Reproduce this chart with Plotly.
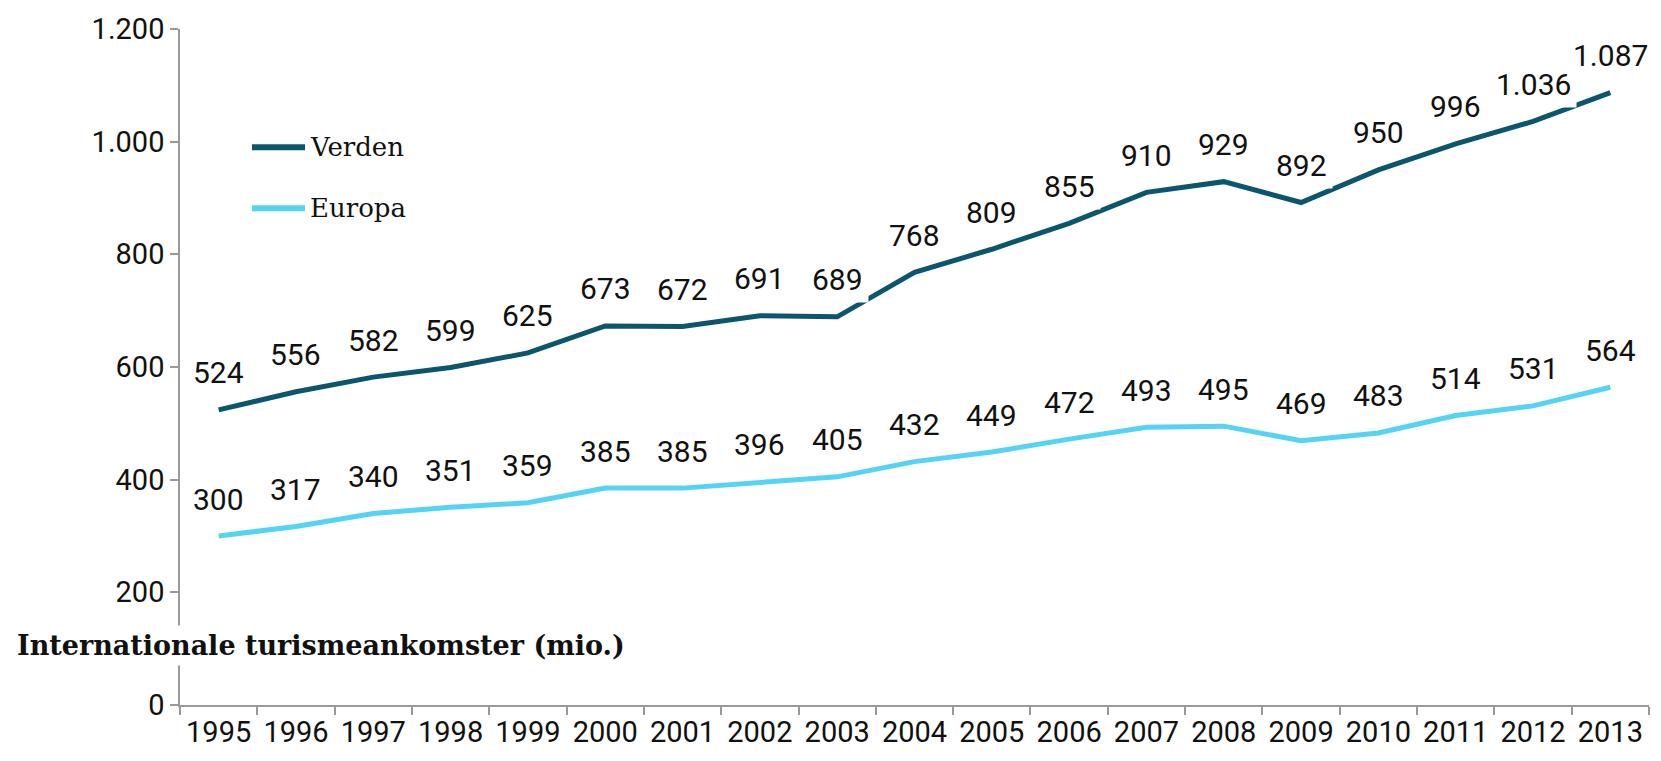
import plotly.graph_objects as go

years = [str(y) for y in range(1995, 2014)]
verden = [524, 556, 582, 599, 625, 673, 672, 691, 689, 768, 809, 855, 910, 929, 892, 950, 996, 1036, 1087]
europa = [300, 317, 340, 351, 359, 385, 385, 396, 405, 432, 449, 472, 493, 495, 469, 483, 514, 531, 564]
y_ticks = [0, 200, 400, 600, 800, 1000, 1200]

series_names = ["Verden", "Europa"]
series_colors = ["#0B566F", "#55D3F6"]

W, H = 1661, 761
ML, MR, MT, MB = 180, 12, 25, 50
PW, PH = W - ML - MR, H - MT - MB

fig = go.Figure()
for name, vals, col in zip(series_names, [verden, europa], series_colors):
    fig.add_trace(go.Scatter(x=years, y=vals, mode="lines", name=name,
                             line=dict(color=col, width=5), showlegend=False))


def fmt(v):
    return f"{v:,}".replace(",", ".")


label_font = dict(family="Roboto, sans-serif", size=30, color="#111111")
annotations = []
for vals in [verden, europa]:
    for i, v in enumerate(vals):
        # category index position for each year; white box masks the line beneath
        annotations.append(dict(x=i, y=v, xref="x", yref="y", text=fmt(v), showarrow=False,
                                yshift=37, font=label_font, bgcolor="white", borderpad=5))


# legend drawn as paper-anchored line samples with labels
def px_x(p):
    return (p - ML) / PW


def px_y(p):
    return (H - MB - p) / PH


shapes = []
for i, (name, col) in enumerate(zip(series_names, series_colors)):
    yy = px_y(145 + i * 62)
    shapes.append(dict(type="line", xref="paper", yref="paper", x0=px_x(252), x1=px_x(305),
                       y0=yy, y1=yy, line=dict(color=col, width=6)))
    annotations.append(dict(xref="paper", yref="paper", x=px_x(308), y=yy, text=name,
                            showarrow=False, xanchor="left", yanchor="middle",
                            font=dict(family="DejaVu Serif, serif", size=26, color="#111111")))

annotations.append(dict(xref="paper", yref="paper", x=px_x(12), y=px_y(651),
                        text="<b>Internationale turismeankomster (mio.)</b>", showarrow=False,
                        xanchor="left", yanchor="middle", bgcolor="white", borderpad=4,
                        font=dict(family="DejaVu Serif, serif", size=27, color="#111111")))

tick_font = dict(family="Roboto, sans-serif", size=29, color="#111111")
fig.update_layout(
    width=W, height=H,
    margin=dict(l=ML, r=MR, t=MT, b=MB),
    paper_bgcolor="white", plot_bgcolor="white",
    separators=",.",
    showlegend=False,
    annotations=annotations,
    shapes=shapes,
    xaxis=dict(type="category", categoryorder="array", categoryarray=years,
               range=[-0.5, len(years) - 0.5], tickangle=0,
               tickson="boundaries", ticks="outside", ticklen=8,
               tickcolor="#9a9a9a", tickwidth=1.5, showline=True, linecolor="#9a9a9a",
               linewidth=1.5, showgrid=False, tickfont=tick_font, zeroline=False),
    yaxis=dict(range=[0, 1200], tickvals=y_ticks, tickformat=",d", ticks="outside",
               ticklen=8, tickcolor="#9a9a9a", tickwidth=1.5, showline=True,
               linecolor="#9a9a9a", linewidth=1.5, showgrid=False, zeroline=False,
               tickfont=tick_font),
)

fig.write_html("out.html")
